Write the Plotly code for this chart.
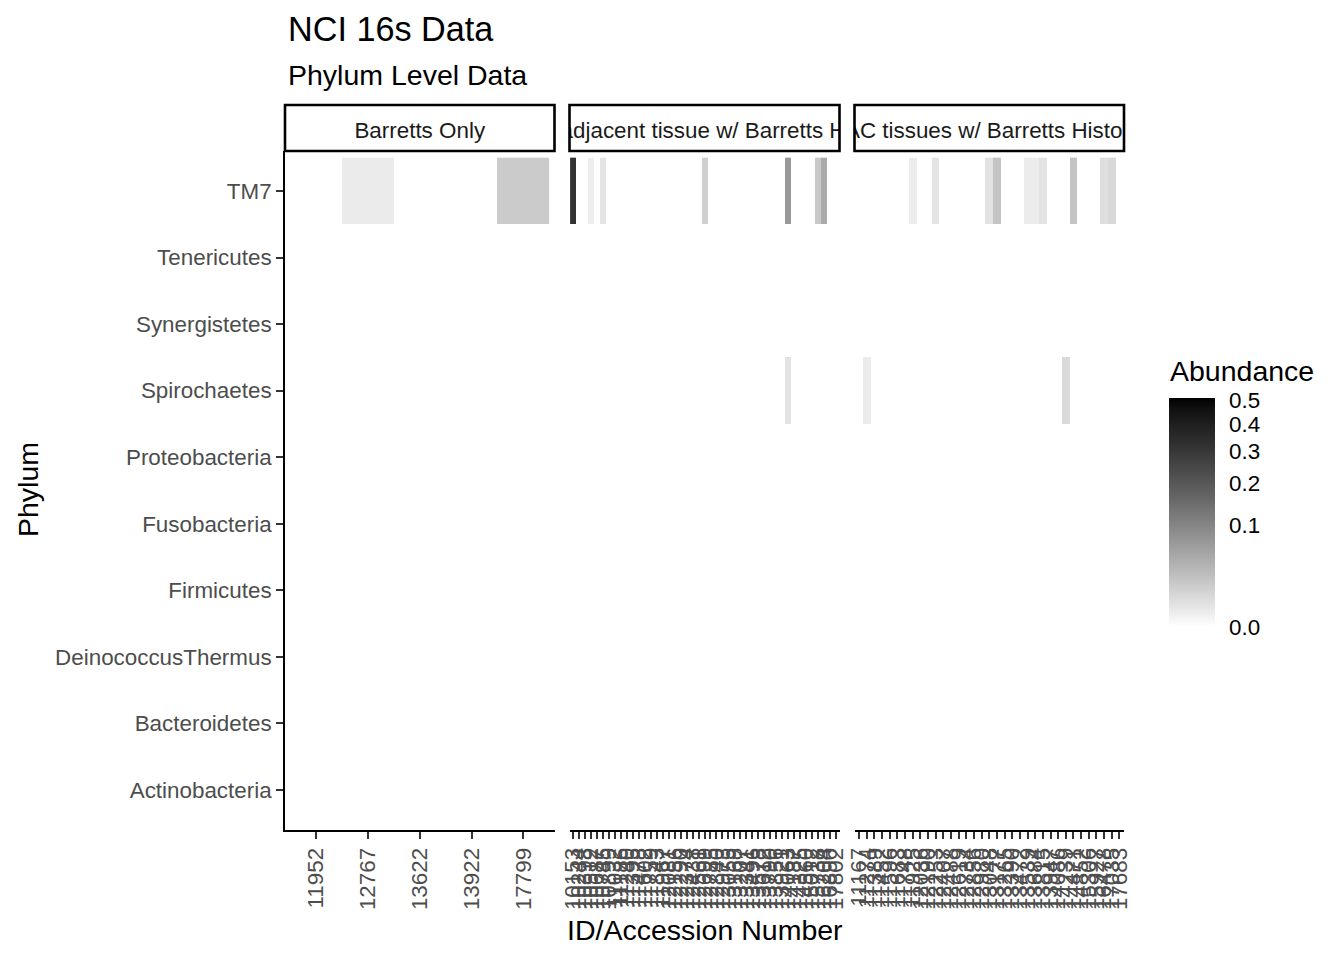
import math
import plotly.graph_objects as go

# ---------------- data ----------------
phyla = ["Actinobacteria", "Bacteroidetes", "DeinococcusThermus", "Firmicutes",
         "Fusobacteria", "Proteobacteria", "Spirochaetes", "Synergistetes",
         "Tenericutes", "TM7"]  # bottom -> top

facet_labels = ["Barretts Only",
                "Normal adjacent tissue w/ Barretts Histology",
                "EAC tissues w/ Barretts Histology"]

ids_barretts = ["11952", "12767", "13622", "13922", "17799"]
ids_adjacent = ["10153", "10244", "10398", "10512", "10687", "10745", "10899", "11032",
                "11186", "11240", "11395", "11478", "11602", "11759", "11843", "11967",
                "12081", "12156", "12290", "12374", "12438", "12561", "12699", "12785",
                "12840", "12973", "13055", "13168", "13207", "13341", "13496", "13578",
                "13612", "13790", "13856", "13921", "14063", "14187", "14325", "14560",
                "15012", "15738", "16204", "16890", "17802"]
ids_eac = ["11167", "11274", "11389", "11452", "11596", "11683", "11748", "11925",
           "12036", "12190", "12253", "12407", "12488", "12619", "12734", "12856",
           "12980", "13048", "13177", "13265", "13390", "13472", "13539", "13684",
           "13815", "13947", "14086", "14239", "14471", "14852", "15306", "15927",
           "16478", "17035", "17683"]

# TM7 abundance per sample
tm7_barretts = [0.0, 0.0024, 0.0, 0.0, 0.017]
tm7_adjacent = [0.32, 0.0, 0.0, 0.0018, 0.0, 0.0044, 0.0, 0.0, 0.0, 0.0,
                0.0, 0.0, 0.0, 0.0, 0.0, 0.0, 0.0, 0.0, 0.0, 0.0,
                0.0, 0.0, 0.0139, 0.0, 0.0, 0.0, 0.0, 0.0, 0.0, 0.0,
                0.0, 0.0, 0.0, 0.0, 0.0, 0.0, 0.069, 0.0, 0.0, 0.0,
                0.0, 0.0192, 0.047, 0.0, 0.0]
tm7_eac = [0.0, 0.0, 0.0, 0.0, 0.0, 0.0, 0.0, 0.0022, 0.0, 0.0,
           0.0044, 0.0, 0.0, 0.0, 0.0, 0.0, 0.0, 0.005, 0.022, 0.0,
           0.0, 0.0, 0.0022, 0.0022, 0.0046, 0.0, 0.0, 0.0, 0.022, 0.0,
           0.0, 0.0, 0.0068, 0.009, 0.0]

# Spirochaetes abundance per sample
spiro_barretts = [0.0, 0.0, 0.0, 0.0, 0.0]
spiro_adjacent = [0.0, 0.0, 0.0, 0.0, 0.0, 0.0, 0.0, 0.0, 0.0, 0.0,
                  0.0, 0.0, 0.0, 0.0, 0.0, 0.0, 0.0, 0.0, 0.0, 0.0,
                  0.0, 0.0, 0.0, 0.0, 0.0, 0.0, 0.0, 0.0, 0.0, 0.0,
                  0.0, 0.0, 0.0, 0.0, 0.0, 0.0, 0.0044, 0.0, 0.0, 0.0,
                  0.0, 0.0, 0.0, 0.0, 0.0]
spiro_eac = [0.0, 0.0024, 0.0, 0.0, 0.0, 0.0, 0.0, 0.0, 0.0, 0.0,
             0.0, 0.0, 0.0, 0.0, 0.0, 0.0, 0.0, 0.0, 0.0, 0.0,
             0.0, 0.0, 0.0, 0.0, 0.0, 0.0, 0.0, 0.0086, 0.0, 0.0,
             0.0, 0.0, 0.0, 0.0, 0.0]

# all other phyla read as zero abundance in every sample
other_phyla_abundance = 0.0

legend_ticks = [0.0, 0.1, 0.2, 0.3, 0.4, 0.5]
legend_max = 0.51

# ---------------- helpers ----------------
def build_matrix(n, tm7, spiro):
    rows = []
    for p in phyla:
        if p == "TM7":
            vals = tm7
        elif p == "Spirochaetes":
            vals = spiro
        else:
            vals = [other_phyla_abundance] * n
        rows.append([math.sqrt(v) for v in vals])  # sqrt colour transform
    return rows

def lab_gray(t):
    L = 100.0 * (1 - t)
    f = (L + 16) / 116
    Y = f ** 3 if f > 6 / 29 else 3 * (6 / 29) ** 2 * (f - 4 / 29)
    c = 12.92 * Y if Y <= 0.0031308 else 1.055 * Y ** (1 / 2.4) - 0.055
    g = max(0, min(255, round(c * 255)))
    return f"rgb({g},{g},{g})"

colorscale = [[i / 40, lab_gray(i / 40)] for i in range(41)]

FONT = "Liberation Sans, Arial, sans-serif"
W, H = 1344, 960
L_PX, R_PX, T_PX, B_PX = 285, 1124, 105, 830
PW, PH = R_PX - L_PX, B_PX - T_PX

def px_x(x):
    return (x - L_PX) / PW

def px_y(y):
    return (B_PX - y) / PH

panel_px = [(285, 554.5), (569.5, 839.5), (854.5, 1124)]
domains = [[px_x(a), px_x(b)] for a, b in panel_px]
main_top = px_y(151)
strip_text_x = [0.5, 0.49, 0.528]

fig = go.Figure()

panels = [(ids_barretts, tm7_barretts, spiro_barretts),
          (ids_adjacent, tm7_adjacent, spiro_adjacent),
          (ids_eac, tm7_eac, spiro_eac)]

axis_common = dict(
    type="category", showgrid=False, zeroline=False, showline=True,
    linecolor="black", linewidth=1.8, ticks="outside", ticklen=7,
    tickwidth=1.5, tickcolor="#333333", tickangle=-90,
    tickfont=dict(family=FONT, size=22.4, color="#4d4d4d"),
)

for i, (ids, tm7, spiro) in enumerate(panels):
    xa = "x" if i == 0 else f"x{i+1}"
    fig.add_trace(go.Heatmap(
        x=ids, y=phyla, z=build_matrix(len(ids), tm7, spiro),
        coloraxis="coloraxis", xaxis=xa, yaxis="y",
        hoverinfo="skip",
    ))
    key = "xaxis" if i == 0 else f"xaxis{i+1}"
    fig.layout[key] = dict(axis_common, domain=domains[i], anchor="y",
                           range=[-0.6, len(ids) - 0.4],
                           tickmode="array", tickvals=ids, ticktext=ids,
                           categoryorder="array", categoryarray=ids)

# strip text traces (clipped to strip boxes)
for i, lab in enumerate(facet_labels):
    xa = f"x{i+4}"
    fig.add_trace(go.Scatter(
        x=[strip_text_x[i]], y=[0.40], text=[lab], mode="text", cliponaxis=True,
        textfont=dict(family=FONT, size=22.4, color="#1a1a1a"),
        xaxis=xa, yaxis="y2", showlegend=False, hoverinfo="skip",
    ))
    fig.layout[f"xaxis{i+4}"] = dict(domain=domains[i], anchor="y2", range=[0, 1],
                                     visible=False, fixedrange=True)
    fig.add_shape(type="rect", xref="paper", yref="paper",
                  x0=domains[i][0], x1=domains[i][1], y0=main_top, y1=1.0,
                  line=dict(color="black", width=2.6), fillcolor="rgba(0,0,0,0)",
                  layer="above")

fig.update_layout(
    width=W, height=H, autosize=False,
    margin=dict(l=L_PX, r=W - R_PX, t=T_PX, b=H - B_PX, pad=0),
    paper_bgcolor="white", plot_bgcolor="white",
    font=dict(family=FONT, color="black"),
    showlegend=False,
    yaxis=dict(type="category", categoryorder="array", categoryarray=phyla,
               domain=[0, main_top], anchor="x", range=[-0.6, len(phyla) - 0.4],
               showgrid=False, zeroline=False, showline=True, linecolor="black",
               linewidth=1.8, ticks="outside", ticklen=7, tickwidth=1.5,
               tickcolor="#333333",
               tickfont=dict(family=FONT, size=22.4, color="#4d4d4d")),
    yaxis2=dict(domain=[main_top, 1.0], anchor="x4", range=[0, 1],
                visible=False, fixedrange=True),
    coloraxis=dict(
        colorscale=colorscale, cmin=0, cmax=math.sqrt(legend_max),
        colorbar=dict(
            thickness=46, thicknessmode="pixels", len=229, lenmode="pixels",
            x=px_x(1169), xanchor="left", y=px_y(627), yanchor="bottom",
            xpad=0, ypad=0, outlinewidth=0,
            tickvals=[math.sqrt(v) for v in legend_ticks],
            ticktext=[f"{v:.1f}" for v in legend_ticks],
            ticks="outside", ticklen=10, tickwidth=1, tickcolor="rgba(255,255,255,0)",
            tickfont=dict(family=FONT, size=22.4, color="black"),
        ),
    ),
)

annotations = [
    dict(text="NCI 16s Data", x=px_x(286), y=px_y(29), xanchor="left", yanchor="middle",
         font=dict(family=FONT, size=34.2, color="black")),
    dict(text="Phylum Level Data", x=px_x(286), y=px_y(75), xanchor="left", yanchor="middle",
         font=dict(family=FONT, size=28.5, color="black")),
    dict(text="Phylum", x=px_x(28), y=px_y(490), xanchor="center", yanchor="middle",
         textangle=-90, font=dict(family=FONT, size=28.5, color="black")),
    dict(text="ID/Accession Number", x=px_x(705), y=px_y(930), xanchor="center",
         yanchor="middle", font=dict(family=FONT, size=28.5, color="black")),
    dict(text="Abundance", x=px_x(1168), y=px_y(371), xanchor="left", yanchor="middle",
         font=dict(family=FONT, size=28.5, color="black")),
]
for a in annotations:
    a.update(xref="paper", yref="paper", showarrow=False)
fig.update_layout(annotations=annotations)

fig.write_html("out.html",
               config={"displayModeBar": False},
               post_script="document.body.style.margin='0px';"
                           "document.body.style.overflow='hidden';")
